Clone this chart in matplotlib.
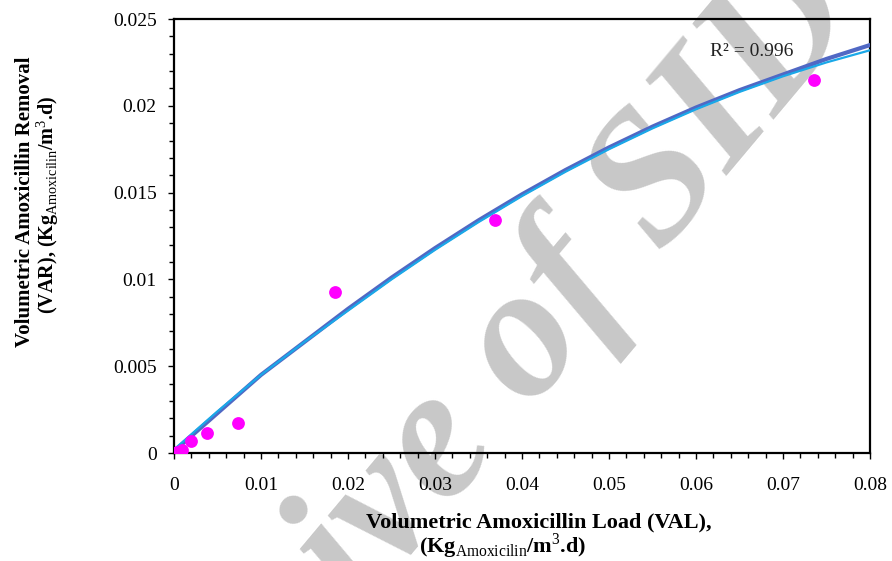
import numpy as np
import matplotlib
matplotlib.use('Agg')
import matplotlib.pyplot as plt
from matplotlib.ticker import MultipleLocator

plt.rcParams['font.family'] = ['Liberation Serif', 'DejaVu Serif']
plt.rcParams['mathtext.fontset'] = 'custom'
plt.rcParams['mathtext.rm'] = 'Liberation Serif'
plt.rcParams['mathtext.bf'] = 'Liberation Serif:bold'

# measured points (VAL vs VAR)
val = [0.0, 0.0004, 0.0009, 0.002, 0.0038, 0.0074, 0.0185, 0.0369, 0.0736]
var = [0.0, 0.00005, 0.0002, 0.0007, 0.00115, 0.0017, 0.0093, 0.0134, 0.0215]

# fitted curves
fit_x = [0.0, 0.005, 0.01, 0.015, 0.02, 0.025, 0.03, 0.035, 0.04,
         0.045, 0.05, 0.055, 0.06, 0.065, 0.07, 0.075, 0.08]
fit_blue = [0.0001, 0.0023, 0.0045, 0.0064, 0.0083, 0.0101, 0.0118, 0.0134, 0.0149,
            0.0163, 0.0176, 0.0188, 0.0199, 0.0209, 0.0218, 0.0227, 0.0235]
fit_cyan = [0.0002, 0.0024, 0.0045, 0.0064, 0.0082, 0.0100, 0.0117, 0.0133, 0.0148,
            0.0162, 0.0175, 0.0187, 0.0198, 0.0208, 0.0217, 0.0225, 0.0232]

r2_text = 'R\u00b2 = 0.996'

fig = plt.figure(figsize=(8.92, 5.61), dpi=100)
ax = fig.add_axes([174/892, 1-453/561, (870-174)/892, (453-19)/561])

# watermark
fig.text(866/892, 1-22/561, 'Archive of SID', fontsize=135, fontweight='bold',
         fontstyle='italic', color='#c8c8c8', rotation=50, rotation_mode='anchor',
         ha='right', va='baseline', zorder=1.5, transform=fig.transFigure)

ax.plot(fit_x, fit_blue, color='#5068c4', lw=3.0, zorder=3, solid_capstyle='round')
ax.plot(fit_x, fit_cyan, color='#1aa8e8', lw=1.6, zorder=4)
ax.scatter(val, var, s=85, color='#ff00ff', zorder=5, linewidths=0)

ax.set_xlim(0, 0.08)
ax.set_ylim(0, 0.025)
ax.set_xticks(np.arange(0, 0.081, 0.01))
ax.set_xticklabels(['0', '0.01', '0.02', '0.03', '0.04', '0.05', '0.06', '0.07', '0.08'])
ax.set_yticks(np.arange(0, 0.0251, 0.005))
ax.set_yticklabels(['0', '0.005', '0.01', '0.015', '0.02', '0.025'])
ax.xaxis.set_minor_locator(MultipleLocator(0.002))
ax.yaxis.set_minor_locator(MultipleLocator(0.001))

ax.tick_params(which='both', direction='out', top=False, right=False, width=1.0, labelsize=14)
ax.tick_params(which='major', length=4.5)
ax.tick_params(which='minor', length=3.5)
ax.tick_params(axis='x', pad=13)
ax.tick_params(axis='y', pad=8)
for s in ax.spines.values():
    s.set_linewidth(1.6)
    s.set_color('black')
ax.set_facecolor('none')
ax.set_zorder(2)

ax.text(0.0664, 0.0231, r2_text, fontsize=14, ha='center', va='center', color='#222222')

# axis titles
fig.text(539/892, 1-522/561, 'Volumetric Amoxicillin Load (VAL),', fontsize=16,
         fontweight='bold', ha='center', va='center')
fig.text(503/892, 1-546/561, r'(Kg$_{\mathrm{Amoxicilin}}$/m$^{\mathrm{3}}$.d)', fontsize=16,
         fontweight='bold', ha='center', va='center')
fig.text(25/892, 1-202/561, 'Volumetric Amoxicillin Removal', fontsize=15,
         fontweight='bold', ha='center', va='center', rotation=90)
fig.text(48/892, 1-205/561, r'(VAR), (Kg$_{\mathrm{Amoxicilin}}$/m$^{\mathrm{3}}$.d)', fontsize=14.5,
         fontweight='bold', ha='center', va='center', rotation=90)

fig.savefig('out.png', dpi=100)
